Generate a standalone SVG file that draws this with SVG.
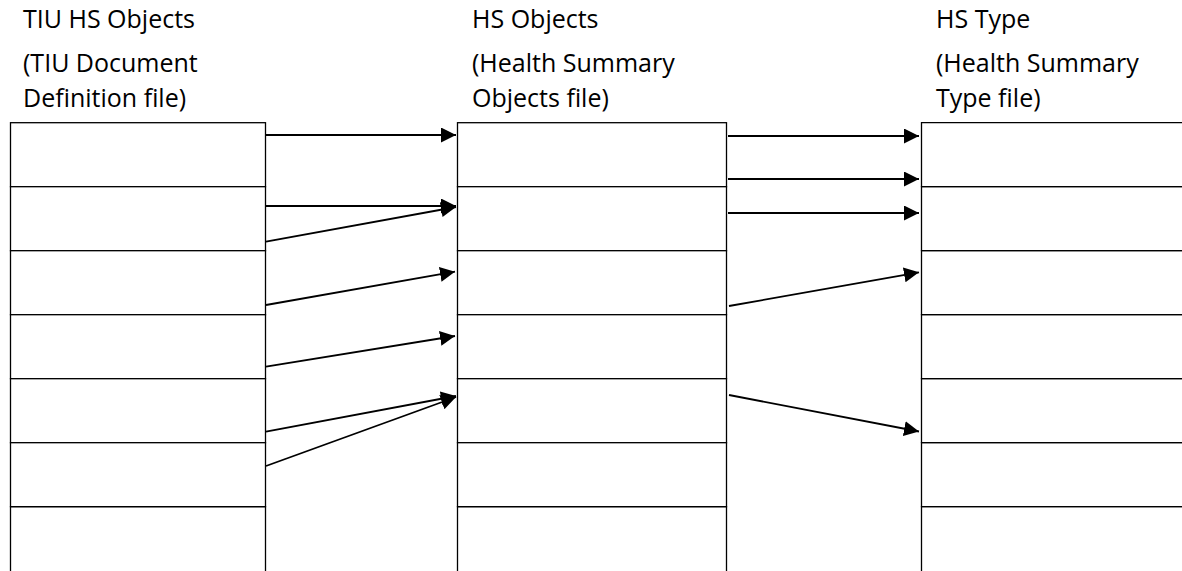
<svg xmlns="http://www.w3.org/2000/svg" width="1182" height="571" viewBox="0 0 1182 571">
<style>
.t{font-family:"Open Sans","Noto Sans","Liberation Sans",sans-serif;font-size:25px;fill:#000}
.c{fill:#fff;stroke:#000;stroke-width:1.3}
.o{fill:none;stroke:#000;stroke-width:1.3}
.a{fill:none;stroke:#000;stroke-width:1.8;marker-end:url(#ah)}
</style>
<defs>
<marker id="ah" markerUnits="userSpaceOnUse" markerWidth="16" markerHeight="16" refX="15" refY="7.5" orient="auto">
<path d="M0,0 L15,7.5 L0,15 z" fill="#000"/>
</marker>
</defs>
<rect width="1182" height="571" fill="#fff"/>
<g id="title-left" class="t">
<text x="23" y="28">TIU HS Objects</text>
<text x="23" y="72">(TIU Document</text>
<text x="23" y="107">Definition file)</text>
</g>
<g id="title-middle" class="t">
<text x="472" y="28">HS Objects</text>
<text x="472" y="72">(Health Summary</text>
<text x="472" y="107">Objects file)</text>
</g>
<g id="title-right" class="t">
<text x="936" y="28">HS Type</text>
<text x="936" y="72">(Health Summary</text>
<text x="936" y="107">Type file)</text>
</g>
<g id="left-table">
<g id="L1"><rect class="c" x="10.5" y="122.7" width="255" height="64"/></g>
<g id="L2"><rect class="c" x="10.5" y="186.7" width="255" height="64"/></g>
<g id="L3"><rect class="c" x="10.5" y="250.7" width="255" height="64"/></g>
<g id="L4"><rect class="c" x="10.5" y="314.7" width="255" height="64"/></g>
<g id="L5"><rect class="c" x="10.5" y="378.7" width="255" height="64"/></g>
<g id="L6"><rect class="c" x="10.5" y="442.7" width="255" height="64"/></g>
<g id="L7"><path class="o" d="M10.5,572 V506.7 H265.5 V572"/></g>
</g>
<g id="middle-table">
<g id="M1"><rect class="c" x="457.5" y="122.7" width="269" height="64"/></g>
<g id="M2"><rect class="c" x="457.5" y="186.7" width="269" height="64"/></g>
<g id="M3"><rect class="c" x="457.5" y="250.7" width="269" height="64"/></g>
<g id="M4"><rect class="c" x="457.5" y="314.7" width="269" height="64"/></g>
<g id="M5"><rect class="c" x="457.5" y="378.7" width="269" height="64"/></g>
<g id="M6"><rect class="c" x="457.5" y="442.7" width="269" height="64"/></g>
<g id="M7"><path class="o" d="M457.5,572 V506.7 H726.5 V572"/></g>
</g>
<g id="right-table">
<g id="R1"><path class="o" d="M1183,122.7 H921.5 V186.7 H1183"/></g>
<g id="R2"><path class="o" d="M1183,186.7 H921.5 V250.7 H1183"/></g>
<g id="R3"><path class="o" d="M1183,250.7 H921.5 V314.7 H1183"/></g>
<g id="R4"><path class="o" d="M1183,314.7 H921.5 V378.7 H1183"/></g>
<g id="R5"><path class="o" d="M1183,378.7 H921.5 V442.7 H1183"/></g>
<g id="R6"><path class="o" d="M1183,442.7 H921.5 V506.7 H1183"/></g>
<g id="R7"><path class="o" d="M1183,506.7 H921.5 V572"/></g>
</g>
<g id="connectors">
<line class="a" x1="266" y1="135" x2="456" y2="135"/>
<line class="a" x1="266" y1="206" x2="456" y2="206"/>
<line class="a" x1="266" y1="241.7" x2="456" y2="207"/>
<line class="a" x1="266" y1="305" x2="455" y2="271.7"/>
<line class="a" x1="266" y1="366.7" x2="455" y2="336"/>
<line class="a" x1="266" y1="431.7" x2="456" y2="396"/>
<line class="a" x1="266" y1="466" x2="456" y2="397"/>
<line class="a" x1="728" y1="136" x2="919" y2="136"/>
<line class="a" x1="728" y1="179" x2="919" y2="179"/>
<line class="a" x1="728" y1="213" x2="919" y2="213"/>
<line class="a" x1="729" y1="306" x2="919" y2="272.3"/>
<line class="a" x1="729" y1="395" x2="919" y2="431.5"/>
</g>
</svg>
